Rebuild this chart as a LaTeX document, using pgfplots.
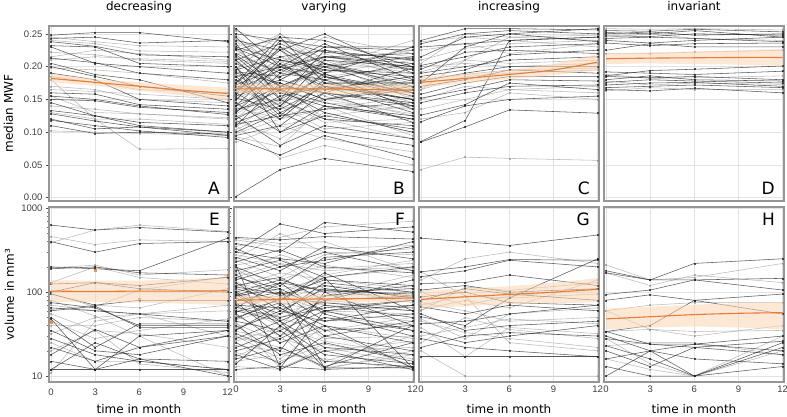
\documentclass[border=0pt]{standalone}
\usepackage{fontspec}
\setmainfont{DejaVu Sans}
\newfontfamily\tickfont{Liberation Sans}
\usepackage{pgfplots}
\pgfplotsset{compat=1.18}

\definecolor{dk}{RGB}{35,35,35}
\definecolor{lt}{RGB}{140,140,140}
\definecolor{orl}{RGB}{228,125,55}
\definecolor{orb}{RGB}{251,212,178}
\definecolor{frm}{RGB}{150,150,150}
\definecolor{grd}{RGB}{226,226,226}

% one subject: values at month 0, 3, 6, 12
\newcommand{\D}[4]{\addplot[dk, opacity=0.75, line width=0.55pt, mark=square*, mark size=0.5pt] coordinates {(0,#1)(3,#2)(6,#3)(12,#4)};}
\newcommand{\G}[4]{\addplot[lt, opacity=0.6, line width=0.55pt, mark=square*, mark size=0.5pt] coordinates {(0,#1)(3,#2)(6,#3)(12,#4)};}

\pgfplotsset{
  pnl/.style={scale only axis, width=180pt, height=175pt,
    xmin=-0.14, xmax=12.09, xtick={0,3,6,9,12}, xticklabels={}, yticklabels={},
    grid=major, grid style={grd, line width=0.5pt},
    axis line style={frm, line width=1.1pt},
    major tick length=0pt, minor tick length=0pt,
    tick label style={font=\tickfont\fontsize{9.5}{10}\selectfont, text=black!75},
    clip mode=individual},
  mwfax/.style={ymin=-0.005, ymax=0.262, ytick={0,0.05,0.1,0.15,0.2,0.25}},
  lcol/.style={major tick length=3pt, minor tick length=1.8pt, tick align=outside,
    xtick style={draw=none}, ytick style={black!70, line width=0.5pt},
    minor y tick style={black!55, line width=0.4pt}},
  brow/.style={xticklabels={0,3,6,9,12}},
  band/.style={fill=orb, fill opacity=0.55, draw=none},
  mean/.style={orl, line width=1.1pt, smooth},
}
\newcommand{\ttl}[1]{\node[anchor=base, font=\fontsize{12}{12}\selectfont] at ([yshift=15.5pt]rel axis cs:0.5,1) {#1};}
\newcommand{\xl}{\node[anchor=base, font=\fontsize{12}{12}\selectfont] at ([yshift=-31pt]rel axis cs:0.5,0) {time in month};}
\newcommand{\lettop}[1]{\node[anchor=base east, inner sep=0pt, font=\fontsize{17}{17}\selectfont] at (rel axis cs:0.95,0.04) {#1};}
\newcommand{\letbot}[1]{\node[anchor=north east, inner sep=0pt, font=\fontsize{17}{17}\selectfont] at (rel axis cs:0.95,0.965) {#1};}

\begin{document}
\begin{tikzpicture}
\useasboundingbox (0,0) rectangle (787pt,-417pt);

% ---------------- A: decreasing, MWF
\begin{axis}[pnl, mwfax, lcol, at={(49pt,-26pt)}, anchor=north west,
  yticklabels={0.00,0.05,0.10,0.15,0.20,0.25}]
\G{0.245}{0.238}{0.232}{0.230}
\G{0.240}{0.235}{0.224}{0.222}
\G{0.222}{0.218}{0.210}{0.205}
\G{0.210}{0.215}{0.212}{0.208}
\G{0.198}{0.195}{0.190}{0.175}
\G{0.185}{0.176}{0.165}{0.160}
\G{0.170}{0.165}{0.150}{0.145}
\G{0.165}{0.162}{0.158}{0.150}
\G{0.155}{0.130}{0.128}{0.122}
\G{0.140}{0.135}{0.128}{0.120}
\G{0.130}{0.120}{0.120}{0.112}
\G{0.180}{0.120}{0.074}{0.075}
\G{0.102}{0.100}{0.098}{0.095}
\G{0.215}{0.225}{0.220}{0.210}
\D{0.248}{0.252}{0.252}{0.238}
\D{0.243}{0.245}{0.236}{0.240}
\D{0.238}{0.231}{0.218}{0.215}
\D{0.232}{0.230}{0.205}{0.200}
\D{0.230}{0.205}{0.200}{0.190}
\D{0.213}{0.206}{0.190}{0.180}
\D{0.205}{0.188}{0.180}{0.145}
\D{0.200}{0.185}{0.170}{0.155}
\D{0.190}{0.180}{0.150}{0.140}
\D{0.160}{0.158}{0.142}{0.135}
\D{0.155}{0.150}{0.140}{0.127}
\D{0.150}{0.148}{0.138}{0.130}
\D{0.145}{0.125}{0.115}{0.110}
\D{0.133}{0.125}{0.110}{0.100}
\D{0.128}{0.117}{0.108}{0.095}
\D{0.118}{0.110}{0.102}{0.092}
\D{0.110}{0.098}{0.100}{0.097}
\D{0.120}{0.105}{0.108}{0.100}
\addplot[band] coordinates {(0,0.176)(3,0.171)(6,0.163)(9,0.156)(12,0.149)(12,0.168)(9,0.172)(6,0.176)(3,0.181)(0,0.189)};
\addplot[mean] coordinates {(0,0.182)(3,0.176)(6,0.170)(9,0.164)(12,0.159)};
\ttl{decreasing}
\lettop{A}
\node[rotate=90, anchor=base, font=\fontsize{12}{12}\selectfont] at ([xshift=-36pt]rel axis cs:0,0.5) {median MWF};
\end{axis}

% ---------------- B: varying, MWF
\begin{axis}[pnl, mwfax, at={(234pt,-26pt)}, anchor=north west]
\G{0.255}{0.230}{0.215}{0.210}
\G{0.248}{0.195}{0.180}{0.175}
\G{0.238}{0.205}{0.245}{0.220}
\G{0.228}{0.170}{0.165}{0.185}
\G{0.218}{0.250}{0.210}{0.160}
\G{0.208}{0.160}{0.205}{0.150}
\G{0.198}{0.225}{0.170}{0.165}
\G{0.188}{0.145}{0.190}{0.210}
\G{0.178}{0.210}{0.155}{0.125}
\G{0.168}{0.135}{0.215}{0.195}
\G{0.158}{0.195}{0.175}{0.170}
\G{0.148}{0.230}{0.145}{0.135}
\G{0.138}{0.120}{0.150}{0.180}
\G{0.128}{0.165}{0.205}{0.165}
\G{0.118}{0.090}{0.130}{0.100}
\G{0.108}{0.150}{0.115}{0.120}
\G{0.098}{0.120}{0.175}{0.150}
\G{0.093}{0.078}{0.140}{0.095}
\G{0.085}{0.110}{0.090}{0.070}
\G{0.150}{0.185}{0.230}{0.215}
\G{0.170}{0.140}{0.105}{0.115}
\G{0.195}{0.250}{0.200}{0.175}
\G{0.130}{0.200}{0.185}{0.145}
\G{0.160}{0.175}{0.120}{0.090}
\G{0.225}{0.185}{0.200}{0.240}
\G{0.145}{0.160}{0.165}{0.160}
\G{0.180}{0.120}{0.135}{0.155}
\G{0.120}{0.180}{0.210}{0.190}
\G{0.205}{0.230}{0.185}{0.200}
\G{0.110}{0.060}{0.080}{0.050}
\G{0.242}{0.215}{0.195}{0.230}
\G{0.212}{0.195}{0.220}{0.182}
\G{0.187}{0.160}{0.200}{0.225}
\G{0.162}{0.215}{0.180}{0.135}
\G{0.142}{0.110}{0.125}{0.140}
\G{0.124}{0.145}{0.165}{0.175}
\G{0.104}{0.135}{0.150}{0.128}
\G{0.232}{0.240}{0.205}{0.168}
\D{0.258}{0.200}{0.235}{0.180}
\D{0.250}{0.240}{0.230}{0.225}
\D{0.245}{0.180}{0.215}{0.205}
\D{0.240}{0.225}{0.250}{0.190}
\D{0.235}{0.150}{0.185}{0.160}
\D{0.230}{0.210}{0.200}{0.215}
\D{0.225}{0.245}{0.175}{0.150}
\D{0.220}{0.190}{0.230}{0.230}
\D{0.215}{0.160}{0.140}{0.120}
\D{0.210}{0.235}{0.205}{0.170}
\D{0.205}{0.170}{0.195}{0.185}
\D{0.200}{0.130}{0.160}{0.140}
\D{0.195}{0.215}{0.225}{0.210}
\D{0.190}{0.175}{0.150}{0.165}
\D{0.185}{0.200}{0.170}{0.130}
\D{0.180}{0.140}{0.210}{0.200}
\D{0.175}{0.225}{0.185}{0.155}
\D{0.170}{0.165}{0.130}{0.100}
\D{0.165}{0.195}{0.215}{0.220}
\D{0.160}{0.120}{0.175}{0.175}
\D{0.155}{0.180}{0.160}{0.145}
\D{0.150}{0.210}{0.195}{0.190}
\D{0.145}{0.100}{0.140}{0.125}
\D{0.140}{0.170}{0.200}{0.160}
\D{0.135}{0.150}{0.120}{0.110}
\D{0.130}{0.190}{0.180}{0.205}
\D{0.125}{0.080}{0.110}{0.090}
\D{0.120}{0.155}{0.170}{0.150}
\D{0.115}{0.140}{0.190}{0.135}
\D{0.110}{0.175}{0.150}{0.170}
\D{0.100}{0.130}{0.100}{0.080}
\D{0.095}{0.110}{0.160}{0.115}
\D{0.090}{0.065}{0.095}{0.060}
\D{0.002}{0.043}{0.060}{0.040}
\D{0.175}{0.245}{0.240}{0.200}
\D{0.200}{0.100}{0.125}{0.105}
\D{0.165}{0.230}{0.190}{0.230}
\D{0.185}{0.125}{0.180}{0.140}
\D{0.140}{0.205}{0.165}{0.185}
\D{0.210}{0.150}{0.225}{0.195}
\D{0.228}{0.200}{0.215}{0.200}
\D{0.192}{0.185}{0.205}{0.178}
\D{0.172}{0.200}{0.188}{0.160}
\D{0.152}{0.135}{0.170}{0.150}
\D{0.132}{0.165}{0.145}{0.120}
\D{0.112}{0.125}{0.135}{0.145}
\D{0.218}{0.170}{0.160}{0.198}
\D{0.158}{0.240}{0.222}{0.212}
\addplot[band] coordinates {(0,0.160)(3,0.160)(6,0.159)(9,0.158)(12,0.157)(12,0.172)(9,0.172)(6,0.173)(3,0.173)(0,0.173)};
\addplot[mean] coordinates {(0,0.166)(3,0.166)(6,0.166)(9,0.165)(12,0.164)};
\ttl{varying}
\lettop{B}
\end{axis}

% ---------------- C: increasing, MWF
\begin{axis}[pnl, mwfax, at={(419pt,-26pt)}, anchor=north west]
\G{0.238}{0.245}{0.240}{0.230}
\G{0.225}{0.235}{0.220}{0.235}
\G{0.210}{0.228}{0.235}{0.240}
\G{0.200}{0.205}{0.200}{0.205}
\G{0.192}{0.210}{0.205}{0.210}
\G{0.180}{0.188}{0.195}{0.198}
\G{0.165}{0.185}{0.190}{0.195}
\G{0.150}{0.170}{0.165}{0.170}
\G{0.135}{0.150}{0.165}{0.160}
\G{0.120}{0.130}{0.160}{0.150}
\G{0.043}{0.062}{0.060}{0.057}
\G{0.205}{0.250}{0.245}{0.248}
\G{0.165}{0.210}{0.245}{0.240}
\D{0.240}{0.258}{0.258}{0.256}
\D{0.235}{0.250}{0.255}{0.250}
\D{0.230}{0.235}{0.240}{0.245}
\D{0.215}{0.245}{0.250}{0.258}
\D{0.202}{0.215}{0.230}{0.235}
\D{0.196}{0.222}{0.225}{0.220}
\D{0.190}{0.200}{0.210}{0.215}
\D{0.185}{0.195}{0.218}{0.225}
\D{0.178}{0.190}{0.200}{0.200}
\D{0.170}{0.180}{0.195}{0.190}
\D{0.158}{0.175}{0.185}{0.185}
\D{0.152}{0.165}{0.180}{0.178}
\D{0.145}{0.160}{0.170}{0.172}
\D{0.126}{0.142}{0.175}{0.165}
\D{0.116}{0.140}{0.150}{0.155}
\D{0.085}{0.108}{0.134}{0.129}
\D{0.086}{0.118}{0.240}{0.245}
\D{0.175}{0.230}{0.250}{0.238}
\addplot[band] coordinates {(0,0.168)(3,0.175)(6,0.181)(9,0.187)(12,0.195)(12,0.219)(9,0.204)(6,0.195)(3,0.189)(0,0.184)};
\addplot[mean] coordinates {(0,0.176)(3,0.182)(6,0.188)(9,0.195)(12,0.207)};
\ttl{increasing}
\lettop{C}
\end{axis}

% ---------------- D: invariant, MWF
\begin{axis}[pnl, mwfax, at={(604pt,-26pt)}, anchor=north west]
\G{0.258}{0.257}{0.258}{0.256}
\G{0.220}{0.220}{0.222}{0.225}
\G{0.178}{0.172}{0.175}{0.173}
\G{0.163}{0.168}{0.165}{0.165}
\G{0.188}{0.182}{0.183}{0.186}
\G{0.245}{0.250}{0.243}{0.240}
\D{0.255}{0.254}{0.257}{0.253}
\D{0.252}{0.250}{0.255}{0.245}
\D{0.250}{0.253}{0.248}{0.250}
\D{0.247}{0.246}{0.250}{0.248}
\D{0.243}{0.245}{0.243}{0.238}
\D{0.240}{0.236}{0.240}{0.245}
\D{0.236}{0.232}{0.235}{0.236}
\D{0.225}{0.235}{0.230}{0.230}
\D{0.186}{0.194}{0.196}{0.201}
\D{0.192}{0.190}{0.188}{0.193}
\D{0.185}{0.183}{0.185}{0.180}
\D{0.180}{0.186}{0.180}{0.178}
\D{0.176}{0.180}{0.178}{0.175}
\D{0.172}{0.175}{0.176}{0.170}
\D{0.168}{0.170}{0.172}{0.168}
\D{0.165}{0.163}{0.167}{0.160}
\addplot[band] coordinates {(0,0.204)(3,0.205)(6,0.204)(9,0.203)(12,0.201)(12,0.227)(9,0.225)(6,0.223)(3,0.222)(0,0.220)};
\addplot[mean] coordinates {(0,0.212)(3,0.213)(6,0.2135)(9,0.214)(12,0.214)};
\ttl{invariant}
\lettop{D}
\end{axis}

% ---------------- E: decreasing, volume
\begin{axis}[pnl, ymode=log, ymin=8.5, ymax=1035, ytick={10,100,1000}, lcol, brow, at={(49pt,-207pt)}, anchor=north west,
  yticklabels={10,100,1000}]
\G{460}{370}{420}{400}
\G{390}{550}{630}{530}
\G{195}{210}{160}{185}
\G{130}{200}{150}{125}
\G{96}{67}{106}{153}
\G{80}{52}{30}{10}
\G{70}{60}{55}{70}
\G{55}{35}{32}{22}
\G{45}{28}{35}{48}
\G{32}{50}{55}{30}
\G{25}{15}{15}{12}
\G{20}{35}{14}{11}
\G{11}{45}{55}{60}
\G{62}{70}{65}{110}
\G{40}{40}{50}{45}
\D{630}{550}{590}{520}
\D{400}{300}{380}{400}
\D{200}{190}{180}{440}
\D{190}{200}{170}{160}
\D{125}{130}{110}{100}
\D{100}{130}{120}{150}
\D{95}{70}{80}{80}
\D{75}{65}{40}{40}
\D{65}{60}{55}{45}
\D{48}{12}{30}{35}
\D{35}{20}{18}{30}
\D{28}{18}{15}{12}
\D{22}{15}{22}{30}
\D{18}{36}{22}{35}
\D{15}{12}{16}{15}
\D{12}{12}{12}{12}
\D{12}{25}{16}{10}
\D{60}{68}{38}{38}
\D{50}{22}{42}{42}
\addplot[only marks, mark=square*, mark size=0.7pt, orl, opacity=0.8] coordinates {(0,130)(0,44)(3,183)(6,84)(12,160)};
\addplot[band] coordinates {(0,77)(3,76)(6,75)(9,73)(12,70)(12,150)(9,143)(6,137)(3,137)(0,139)};
\addplot[mean] coordinates {(0,103)(3,102)(6,103)(9,103)(12,104)};
\letbot{E}
\xl
\node[rotate=90, anchor=base, font=\fontsize{12}{12}\selectfont] at ([xshift=-35pt]rel axis cs:0,0.5) {volume in mm³};
\end{axis}

% ---------------- F: varying, volume
\begin{axis}[pnl, ymode=log, ymin=8.5, ymax=1035, ytick={10,100,1000}, brow, at={(234pt,-207pt)}, anchor=north west]
\G{420}{350}{330}{360}
\G{350}{450}{600}{700}
\G{280}{220}{180}{200}
\G{240}{150}{280}{330}
\G{210}{260}{120}{100}
\G{190}{95}{160}{240}
\G{170}{140}{210}{150}
\G{150}{220}{110}{80}
\G{135}{70}{90}{160}
\G{115}{170}{140}{110}
\G{105}{50}{75}{65}
\G{88}{120}{90}{100}
\G{78}{90}{60}{55}
\G{68}{40}{120}{85}
\G{58}{100}{70}{60}
\G{52}{30}{50}{40}
\G{47}{65}{28}{30}
\G{42}{25}{35}{50}
\G{38}{55}{80}{65}
\G{34}{28}{20}{22}
\G{30}{16}{40}{28}
\G{26}{38}{26}{18}
\G{23}{20}{15}{30}
\G{19}{15}{24}{16}
\G{17}{30}{12}{20}
\G{15}{18}{16}{12}
\G{13}{12}{22}{14}
\G{440}{380}{400}{180}
\G{250}{500}{300}{280}
\G{160}{280}{190}{220}
\G{98}{75}{58}{45}
\G{62}{48}{36}{12.5}
\G{44}{12.5}{20}{26}
\G{29}{22}{12.5}{18}
\G{125}{105}{150}{190}
\G{72}{85}{110}{75}
\D{450}{420}{460}{430}
\D{380}{300}{680}{520}
\D{300}{250}{220}{400}
\D{260}{180}{350}{250}
\D{230}{320}{200}{170}
\D{200}{120}{260}{300}
\D{180}{240}{150}{200}
\D{160}{90}{140}{120}
\D{140}{200}{300}{180}
\D{130}{60}{110}{90}
\D{120}{150}{80}{140}
\D{110}{80}{170}{60}
\D{100}{140}{100}{110}
\D{95}{40}{70}{50}
\D{90}{110}{60}{80}
\D{85}{55}{130}{100}
\D{80}{100}{45}{70}
\D{75}{30}{90}{120}
\D{70}{65}{35}{40}
\D{65}{130}{55}{30}
\D{60}{45}{80}{90}
\D{55}{25}{40}{25}
\D{50}{75}{30}{45}
\D{45}{35}{60}{70}
\D{40}{18}{25}{15}
\D{36}{60}{45}{55}
\D{32}{20}{100}{40}
\D{28}{45}{22}{18}
\D{25}{14}{30}{20}
\D{22}{35}{15}{13}
\D{20}{28}{50}{35}
\D{18}{12}{20}{12}
\D{16}{22}{13}{25}
\D{14}{40}{18}{14}
\D{12}{13}{12}{13}
\D{300}{650}{500}{600}
\D{210}{12.5}{60}{35}
\D{150}{110}{12.5}{40}
\D{100}{45}{12.5}{12.5}
\D{58}{80}{150}{12.5}
\D{35}{70}{40}{12.5}
\D{115}{95}{120}{85}
\D{92}{130}{105}{95}
\D{66}{50}{65}{80}
\D{48}{85}{75}{60}
\D{330}{200}{240}{350}
\addplot[band] coordinates {(0,72)(3,74)(6,75)(9,76)(12,77)(12,95)(9,93)(6,92)(3,91)(0,90)};
\addplot[mean] coordinates {(0,80)(3,82)(6,83)(9,84)(12,85)};
\letbot{F}
\xl
\end{axis}

% ---------------- G: increasing, volume
\begin{axis}[pnl, ymode=log, ymin=8.5, ymax=1035, ytick={10,100,1000}, brow, at={(419pt,-207pt)}, anchor=north west]
\G{140}{250}{300}{220}
\G{100}{70}{90}{110}
\G{75}{60}{45}{50}
\G{62}{80}{65}{140}
\G{48}{28}{55}{65}
\G{38}{17}{38}{32}
\G{30}{38}{48}{42}
\G{20}{10}{10}{10}
\G{25}{50}{36}{28}
\G{175}{90}{25}{20}
\G{60}{115}{105}{130}
\G{45}{33}{28}{22}
\G{70}{90}{85}{95}
\D{440}{400}{360}{480}
\D{175}{200}{245}{240}
\D{153}{180}{240}{200}
\D{127}{130}{160}{120}
\D{106}{120}{100}{110}
\D{88}{100}{75}{70}
\D{80}{110}{95}{80}
\D{67}{55}{70}{60}
\D{51}{40}{85}{250}
\D{42}{45}{55}{70}
\D{34}{25}{30}{40}
\D{28}{22}{20}{17}
\D{22}{30}{33}{30}
\D{17}{17}{17}{17}
\D{55}{35}{40}{45}
\addplot[band] coordinates {(0,64)(3,68)(6,72)(9,74)(12,76)(12,147)(9,130)(6,118)(3,110)(0,105)};
\addplot[mean] coordinates {(0,82)(3,88)(6,94)(9,100)(12,108)};
\letbot{G}
\xl
\end{axis}

% ---------------- H: invariant, volume
\begin{axis}[pnl, ymode=log, ymin=8.5, ymax=1035, ytick={10,100,1000}, brow, at={(604pt,-207pt)}, anchor=north west]
\G{211}{140}{150}{220}
\G{170}{120}{160}{130}
\G{60}{70}{75}{75}
\G{34}{36}{30}{40}
\G{28}{14}{10}{20}
\G{23}{25}{25}{18}
\G{16}{12}{10}{30}
\G{60}{36}{34}{35}
\D{170}{140}{220}{250}
\D{180}{140}{140}{106}
\D{94}{106}{140}{146}
\D{80}{93}{80}{95}
\D{34}{40}{80}{55}
\D{34}{24}{22}{26}
\D{30}{20}{10}{25}
\D{28}{24}{24}{20}
\D{23}{16}{10}{22}
\D{20}{13}{22}{18}
\D{16}{20}{16}{14}
\D{13}{10}{10}{13}
\D{10}{20}{24}{30}
\addplot[band] coordinates {(0,36)(3,38)(6,39)(9,38)(12,36)(12,76)(9,74)(6,71)(3,67)(0,64)};
\addplot[mean] coordinates {(0,48)(3,51)(6,54)(9,56)(12,57)};
\letbot{H}
\xl
\end{axis}
\end{tikzpicture}
\end{document}
